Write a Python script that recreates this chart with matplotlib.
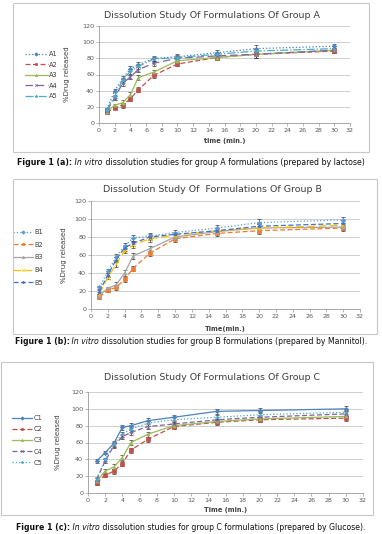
import matplotlib
matplotlib.use("Agg")
import matplotlib.pyplot as plt
from matplotlib.patches import Rectangle

W, H = 382, 534

# time points (min)
time_pts = [1, 2, 3, 4, 5, 7, 10, 15, 20, 30]

# group A (lactose)
A1 = [17, 40, 55, 67, 72, 80, 82, 87, 92, 95]
A2 = [13, 19, 22, 30, 41, 59, 73, 81, 85, 89]
A3 = [14, 22, 25, 35, 56, 63, 77, 81, 85, 90]
A4 = [15, 31, 49, 57, 66, 74, 80, 83, 85, 90]
A5 = [16, 33, 53, 64, 70, 79, 81, 85, 89, 92]
err_A = [2, 2, 3, 3, 3, 3, 3, 3, 4, 3]

# group B (mannitol)
B1 = [24, 42, 58, 70, 79, 81, 85, 90, 96, 99]
B2 = [13, 21, 24, 33, 45, 62, 78, 84, 87, 90]
B3 = [15, 23, 27, 40, 59, 67, 80, 86, 90, 91]
B4 = [17, 35, 50, 65, 71, 78, 82, 87, 90, 93]
B5 = [19, 38, 55, 68, 73, 80, 83, 87, 92, 95]
err_B = [2, 2, 3, 3, 3, 3, 3, 3, 4, 3]

# group C (glucose)
C1 = [38, 48, 59, 78, 80, 86, 90, 97, 98, 100]
C2 = [12, 21, 26, 35, 51, 64, 79, 84, 87, 89]
C3 = [14, 26, 31, 42, 60, 70, 80, 85, 88, 91]
C4 = [16, 38, 56, 67, 72, 79, 82, 87, 90, 94]
C5 = [17, 40, 58, 70, 76, 83, 87, 90, 93, 96]
err_C = [2, 2, 3, 3, 3, 3, 3, 3, 3, 3]

fig = plt.figure(figsize=(W / 100, H / 100), dpi=100)
fig.patch.set_facecolor("white")


def px_axes(x0, y0, x1, y1):
    ax = fig.add_axes([x0 / W, 1 - y1 / H, (x1 - x0) / W, (y1 - y0) / H])
    ax.px = (x0, x1)
    return ax


def box(x0, y0, x1, y1):
    fig.patches.append(Rectangle((x0 / W, 1 - y1 / H), (x1 - x0) / W, (y1 - y0) / H,
                                 transform=fig.transFigure, fill=False,
                                 edgecolor="#c8c8c8", linewidth=0.8))


def panel(ax, names, series, err, styles, title, xlabel, title_y, xlab_y, ylab_x,
          leg_xy, hlen, lspace):
    handles = []
    for name, vals, (col, ls, mk) in zip(names, series, styles):
        eb = ax.errorbar(time_pts, vals, yerr=err, color=col, linestyle=ls, marker=mk,
                         markersize=2.2, linewidth=0.9, elinewidth=0.5, ecolor="#3a3a3a",
                         capsize=1.3, capthick=0.5, label=name, markeredgewidth=0.5)
        handles.append(eb[0])
    ax.set_xlim(0, 32)
    ax.set_ylim(0, 120)
    ax.set_xticks(range(0, 33, 2))
    ax.set_yticks(range(0, 121, 20))
    ax.grid(axis="y", color="#c8c8c8", linewidth=0.6)
    ax.set_axisbelow(True)
    for s in ["top", "right"]:
        ax.spines[s].set_visible(False)
    for s in ["left", "bottom"]:
        ax.spines[s].set_color("#9a9a9a")
        ax.spines[s].set_linewidth(0.6)
    ax.tick_params(labelsize=4.6, colors="#9a9a9a", labelcolor="#595959",
                   length=2, width=0.5, pad=1.5)
    ax.set_ylabel("%Drug released", fontsize=5, color="#404040")
    x0, x1 = ax.px
    ax.yaxis.set_label_coords((ylab_x - x0) / (x1 - x0), 0.5)
    fig.text((x0 + x1) / 2 / W, 1 - xlab_y / H, xlabel, ha="center", va="center",
             fontsize=4.8, color="#404040", fontweight="bold")
    fig.text(212 / W, 1 - title_y / H, title, ha="center", va="center",
             fontsize=6.8, color="#404040")
    leg = ax.legend(handles, names, loc="upper left",
                    bbox_to_anchor=(leg_xy[0] / W, 1 - leg_xy[1] / H),
                    bbox_transform=fig.transFigure, frameon=False, fontsize=4.8,
                    handlelength=hlen, labelspacing=lspace, handletextpad=0.25,
                    borderaxespad=0, borderpad=0, markerscale=0.8)
    for t in leg.get_texts():
        t.set_color("#404040")


def caption(y, label, rest, target=352):
    r = fig.canvas.get_renderer()
    parts = [(label, "normal", "bold"), (" In vitro", "italic", "normal"),
             (rest, "normal", "normal")]
    texts = []
    for s, style, weight in parts:
        t = fig.text(0, 1 - y / H, s, fontsize=6, style=style, weight=weight,
                     va="center", ha="left", color="#111111")
        texts.append(t)
    total = sum(t.get_window_extent(r).width for t in texts)
    size = 6 * target / total
    widths = []
    for t in texts:
        t.set_fontsize(size)
        widths.append(t.get_window_extent(r).width)
    x = 191 - sum(widths) / 2
    for t, w in zip(texts, widths):
        t.set_x(x / W)
        x += w


# panel A
box(13, 3, 369, 152)
axA = px_axes(99, 26, 350, 123)
styles_A = [("#4f81bd", ":", "D"), ("#c0504d", (0, (4, 2)), "s"),
            ("#9bbb59", "-", "^"), ("#8064a2", (0, (6, 3)), "x"),
            ("#4bacc6", "-.", "*")]
panel(axA, ["A1", "A2", "A3", "A4", "A5"], [A1, A2, A3, A4, A5], err_A, styles_A,
      "Dissolution Study Of Formulations Of Group A", "time (min.)", 15, 141, 70,
      (25, 51), 3.4, 0.69)
caption(162, "Figure 1 (a):", " dissolution studies for group A formulations (prepared by lactose)")

# panel B
box(13, 179, 377, 334)
axB = px_axes(91, 201, 360, 309)
styles_B = [("#5b9bd5", ":", "D"), ("#ed7d31", (0, (4, 2)), "s"),
            ("#a5a5a5", "-", "^"), ("#ffc000", (0, (6, 3)), "x"),
            ("#4472c4", (0, (4, 2)), "*")]
panel(axB, ["B1", "B2", "B3", "B4", "B5"], [B1, B2, B3, B4, B5], err_B, styles_B,
      "Dissolution Study Of  Formulations Of Group B", "Time(min.)", 190, 329, 67,
      (13, 229), 3.0, 1.0)
caption(342, "Figure 1 (b):", " dissolution studies for group B formulations (prepared by Mannitol).")

# panel C
box(1, 362, 373, 515)
axC = px_axes(88, 392, 363, 493)
styles_C = [("#4f81bd", "-", "D"), ("#c0504d", (0, (4, 2)), "s"),
            ("#9bbb59", "-", "^"), ("#8064a2", (0, (4, 2)), "x"),
            ("#4bacc6", ":", "*")]
panel(axC, ["C1", "C2", "C3", "C4", "C5"], [C1, C2, C3, C4, C5], err_C, styles_C,
      "Dissolution Study Of Formulations Of Group C", "Time (min.)", 378, 510, 61,
      (12, 415), 3.0, 0.78)
caption(528, "Figure 1 (c):", " dissolution studies for group C formulations (prepared by Glucose).")

fig.savefig("out.png", dpi=100, facecolor="white")
